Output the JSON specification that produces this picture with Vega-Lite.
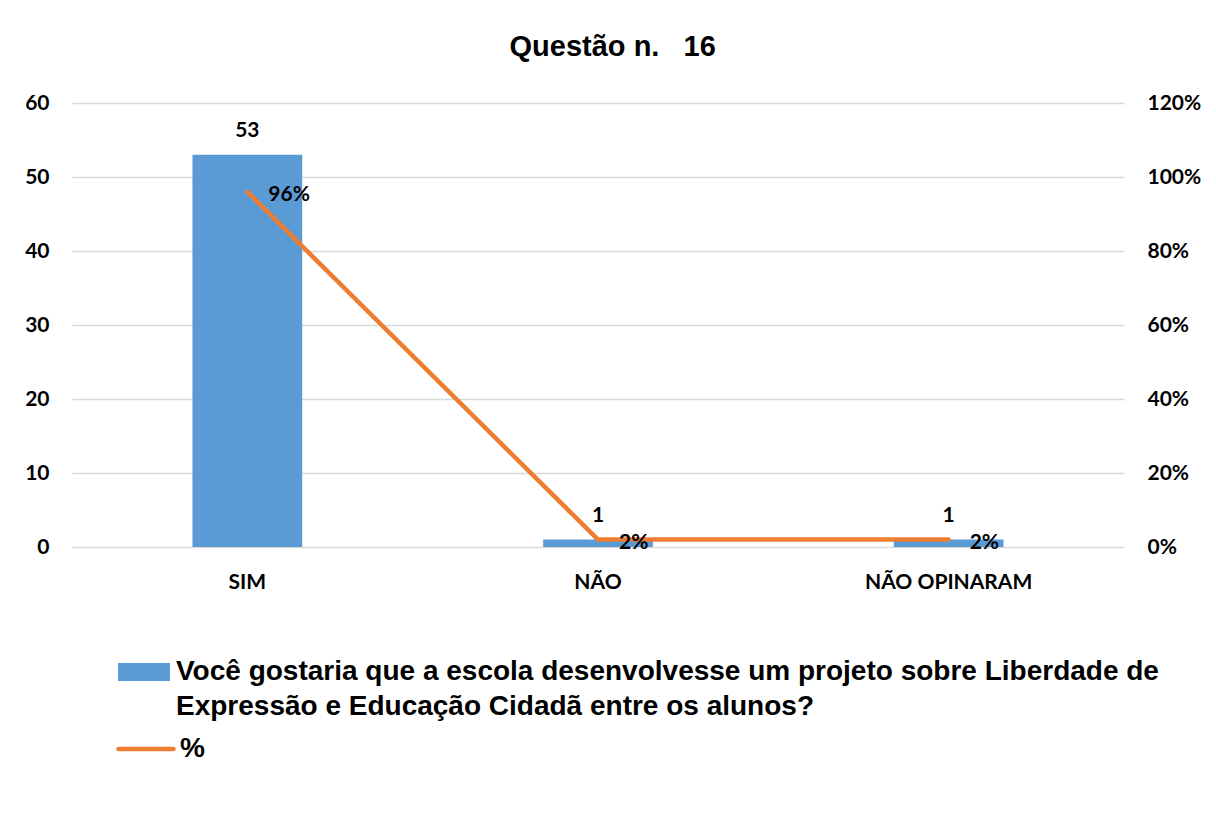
{
  "$schema": "https://vega.github.io/schema/vega-lite/v6.json",
  "width": 1052,
  "height": 444,
  "autosize": {"type": "none"},
  "padding": {"left": 72, "top": 103, "right": 92, "bottom": 283},
  "background": "white",
  "config": {
    "view": {"stroke": null},
    "axis": {"labelFont": "Lato", "labelFontSize": 21, "labelFontWeight": "bold", "labelColor": "#000000"}
  },
  "title": {
    "text": "Questão n. \u00a0\u00a016",
    "font": "Liberation Sans",
    "fontSize": 29,
    "fontWeight": "bold",
    "color": "#000000",
    "anchor": "middle",
    "frame": "bounds",
    "baseline": "bottom",
    "offset": 1
  },
  "data": {
    "values": [
      {"categoria": "SIM", "quantidade": 53, "percentual": 0.96},
      {"categoria": "NÃO", "quantidade": 1, "percentual": 0.02},
      {"categoria": "NÃO OPINARAM", "quantidade": 1, "percentual": 0.02}
    ]
  },
  "encoding": {
    "x": {
      "field": "categoria",
      "type": "nominal",
      "sort": null,
      "scale": {"paddingInner": 0.687, "paddingOuter": 0.3435},
      "axis": {"title": null, "domain": false, "ticks": false, "labelAngle": 0, "labelPadding": 24, "labelBaseline": "top"}
    }
  },
  "layer": [
    {
      "encoding": {
        "y": {
          "field": "quantidade",
          "type": "quantitative",
          "scale": {"domain": [0, 60], "nice": false},
          "axis": {"orient": "left", "title": null, "values": [0, 10, 20, 30, 40, 50, 60], "domain": false, "ticks": false, "labelPadding": 23, "grid": true, "gridColor": "#d9d9d9", "gridWidth": 1.5}
        }
      },
      "layer": [
        {
          "mark": {"type": "bar"},
          "encoding": {
            "fill": {
              "datum": "Você gostaria que a escola desenvolvesse um projeto sobre Liberdade de Expressão e Educação Cidadã entre os alunos?",
              "scale": {"range": ["#5B9BD5"]},
              "legend": {
                "orient": "none",
                "legendX": 46,
                "legendY": 543,
                "title": null,
                "padding": 0,
                "symbolType": "M-1,-0.35H1V0.35H-1Z",
                "symbolSize": 2704,
                "symbolStrokeWidth": 0,
                "labelFont": "Liberation Sans",
                "labelFontSize": 28,
                "labelFontWeight": "bold",
                "labelColor": "#000000",
                "labelLimit": 2000,
                "labelOffset": 6,
                "labelBaseline": "alphabetic",
                "labelExpr": "[slice(datum.label, 0, indexof(datum.label, ' Expressão')), slice(datum.label, indexof(datum.label, ' Expressão') + 1)]",
                "encode": {"labels": {"update": {"dy": {"value": 8}, "lineHeight": {"value": 35}}}}
              }
            }
          }
        },
        {
          "mark": {"type": "text", "font": "Lato", "fontSize": 21, "fontWeight": "bold", "color": "#000000", "baseline": "middle", "dy": -24},
          "encoding": {"text": {"field": "quantidade", "type": "quantitative"}}
        }
      ]
    },
    {
      "encoding": {
        "y": {
          "field": "percentual",
          "type": "quantitative",
          "scale": {"domain": [0, 1.2], "nice": false},
          "axis": {"orient": "right", "title": null, "values": [0, 0.2, 0.4, 0.6, 0.8, 1.0, 1.2], "format": ".0%", "domain": false, "ticks": false, "labelPadding": 23, "grid": false}
        }
      },
      "layer": [
        {
          "mark": {"type": "line", "strokeWidth": 4.5, "strokeCap": "round", "strokeJoin": "round"},
          "encoding": {
            "stroke": {
              "datum": "%",
              "scale": {"range": ["#ED7D31"]},
              "legend": {
                "orient": "none",
                "legendX": 44,
                "legendY": 616,
                "title": null,
                "padding": 0,
                "symbolType": "stroke",
                "symbolSize": 3025,
                "symbolStrokeWidth": 4.5,
                "labelFont": "Liberation Sans",
                "labelFontSize": 28,
                "labelFontWeight": "bold",
                "labelColor": "#000000",
                "labelOffset": 4,
                "encode": {"symbols": {"update": {"strokeCap": {"value": "round"}}}}
              }
            }
          }
        },
        {
          "mark": {"type": "text", "font": "Lato", "fontSize": 21, "fontWeight": "bold", "color": "#000000", "align": "left", "baseline": "middle", "dx": 21, "dy": 3},
          "encoding": {"text": {"field": "percentual", "type": "quantitative", "format": ".0%"}}
        }
      ]
    }
  ],
  "resolve": {"scale": {"y": "independent"}}
}
